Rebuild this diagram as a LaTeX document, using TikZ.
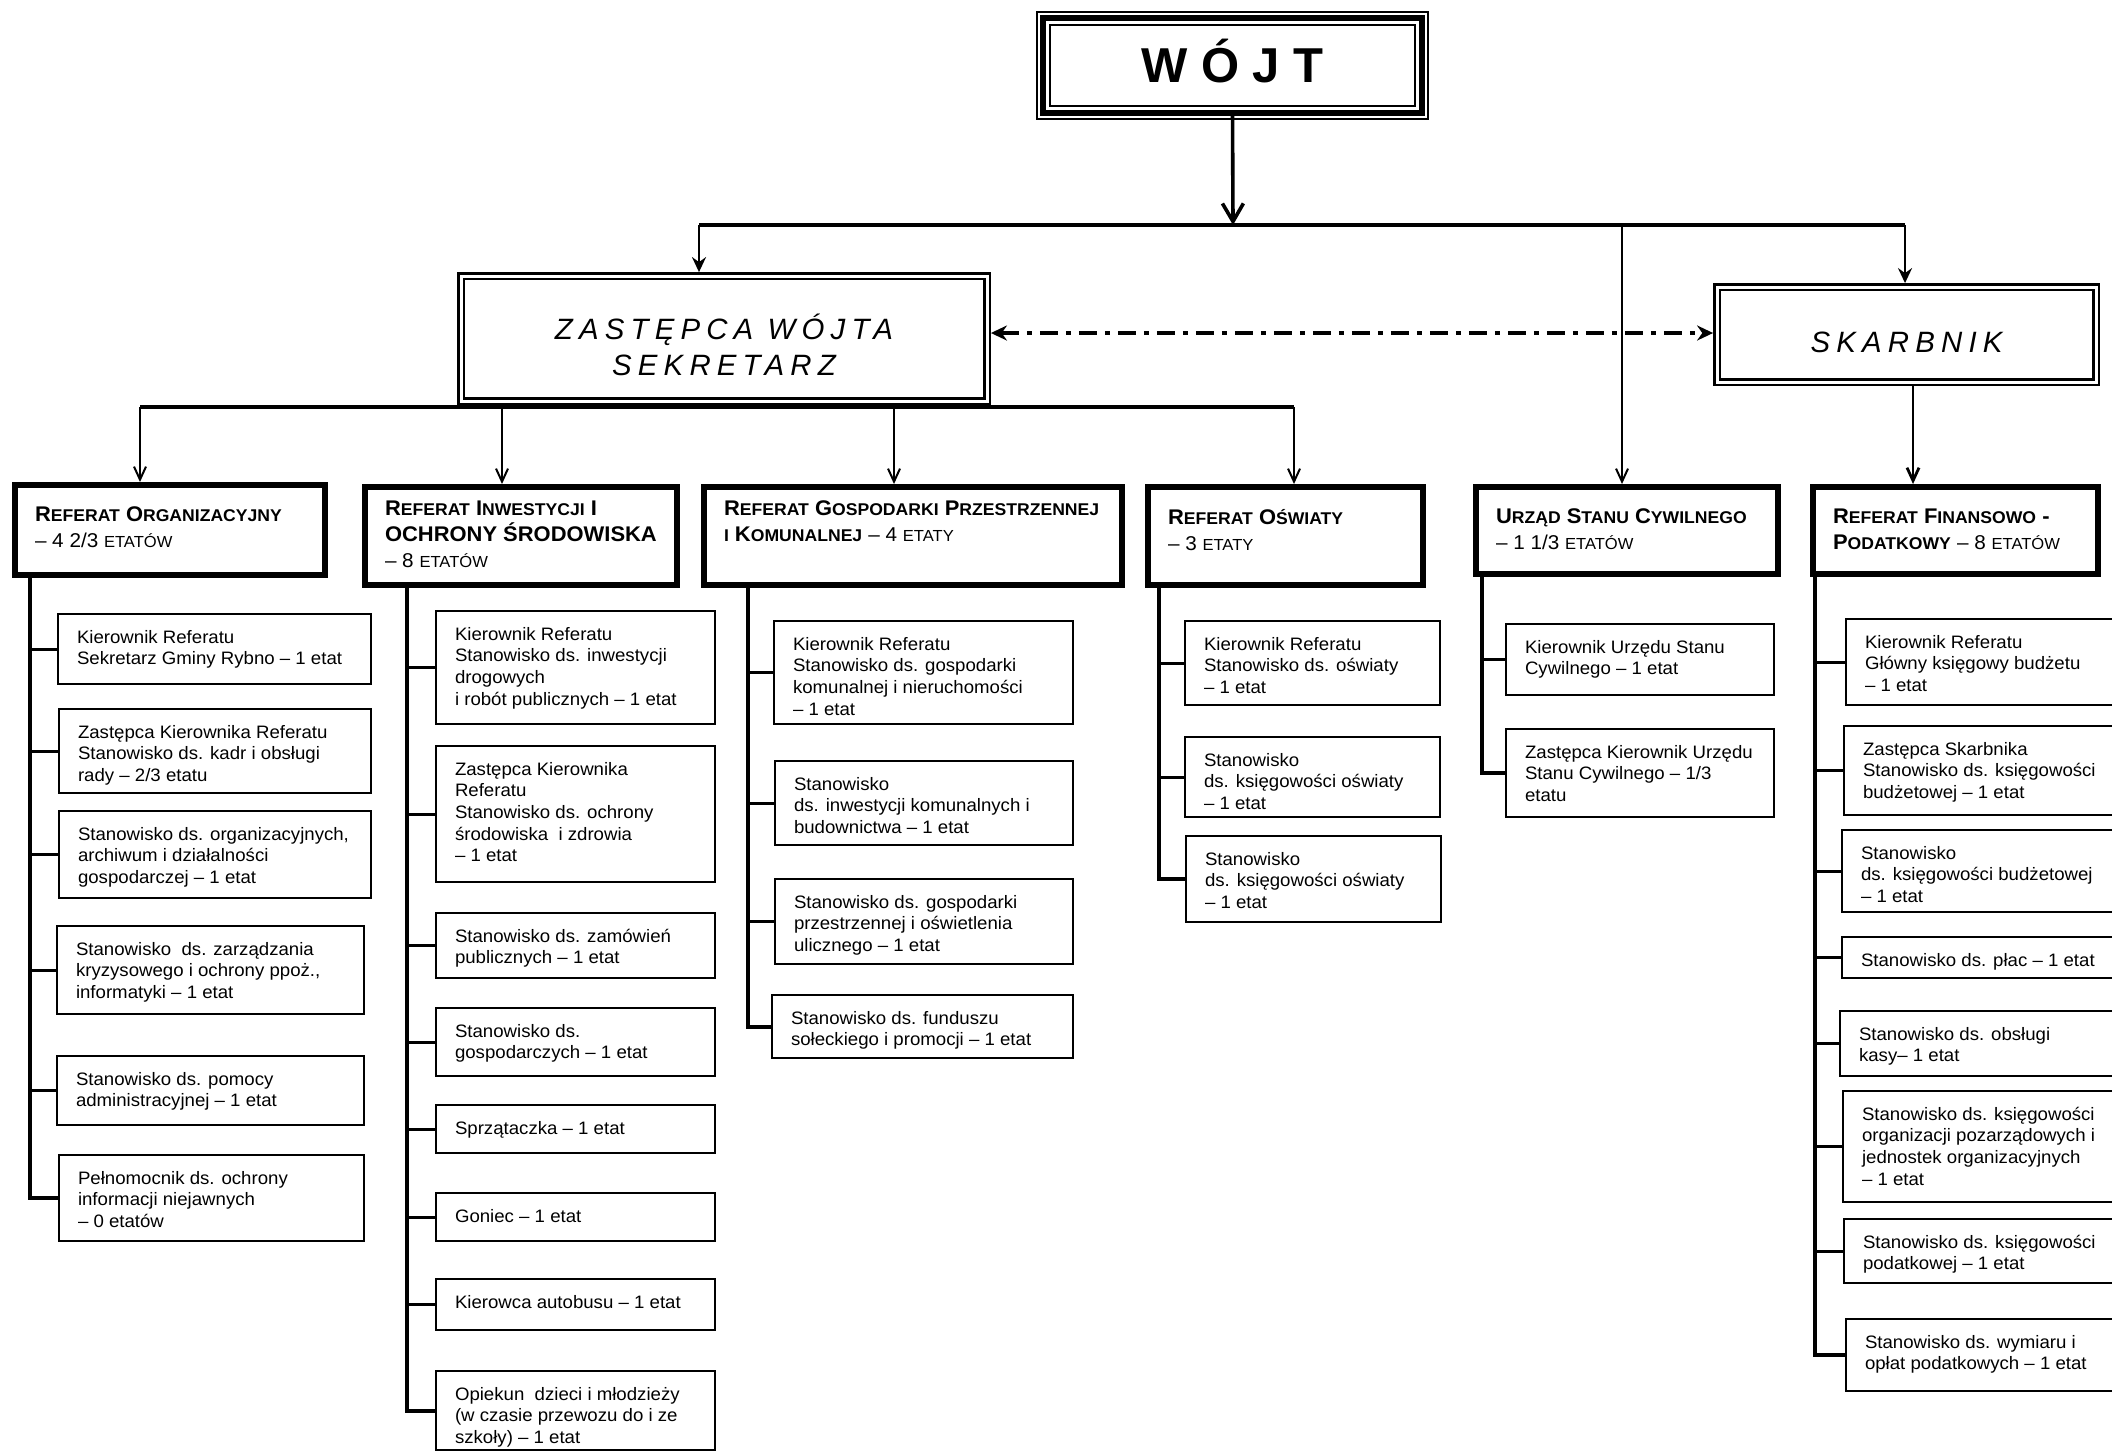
\documentclass[tikz,border=0pt]{standalone}
\usepackage{fontspec}
\setmainfont{Liberation Sans}[FakeStretch=1.035]
\newfontfamily\spacedfont[LetterSpace=21]{Liberation Sans}
\newfontfamily\titlefont{Liberation Sans}
\usetikzlibrary{arrows.meta}

\newcommand\smc[1]{{\fontsize{8.5}{13}\selectfont #1}}
\newcommand\regc[1]{{\mdseries\fontsize{10}{13}\selectfont #1}}
\newcommand\etw[1]{{\fontsize{8}{13}\selectfont #1}}
% sub box: name, x, y, w, h, text  (outer edges, px)
\newcommand\sbx[6]{\node[sb] (#1) at (#2,#3) {\parbox[c][\dimexpr #5pt/2-17pt\relax][t]{\dimexpr #4pt/2-20pt\relax}{#6}};}
% department box
\newcommand\dbx[6]{\node[dp] (#1) at (#2,#3) {\parbox[c][\dimexpr #5pt/2-17pt\relax][t]{\dimexpr #4pt/2-23pt\relax}{#6}};}

\begin{document}
\begin{tikzpicture}[x=0.5pt,y=-0.5pt,
  sb/.style={draw, line width=1pt, inner xsep=9.5pt, inner ysep=8pt, anchor=north west, font=\fontsize{9}{10.85}\selectfont},
  dp/.style={draw, line width=3pt, inner xsep=10pt, inner ysep=7pt, anchor=north west, font=\fontsize{10.6}{13}\selectfont\bfseries},
  spine/.style={line width=2pt},
  tick/.style={line width=1.5pt},
  darrow/.style={line width=1pt, -{Straight Barb[length=6.5pt,width=6pt]}},
  sarrow/.style={line width=1.2pt, -{Stealth[length=7.5pt,width=7pt,inset=2.5pt]}},
  warrow/.style={line width=1.8pt, -{Straight Barb[length=9pt,width=10.5pt]}},
  dd/.style={line width=1.6pt, dash pattern=on 9pt off 4pt on 2.5pt off 4pt,
     {Stealth[length=8pt,width=7.5pt]}-{Stealth[length=8pt,width=7.5pt]}},
  dbl/.style={draw, line width=1.2pt, double, double distance=1.5pt, outer sep=1.95pt, inner sep=0pt,
     font=\spacedfont\itshape\fontsize{14.7}{18.3}\selectfont}
]
\useasboundingbox (0,0) rectangle (2112,1453);
\fill[white] (0,0) rectangle (2112,1453);
\clip (0,0) rectangle (2112,1453);

% ---------- top level ----------
\node[draw, line width=2.8pt, outer sep=0pt, minimum width=189.5pt, minimum height=47.5pt, inner sep=0pt,
  font=\titlefont\fontsize{24.5}{28}\selectfont\bfseries, text height=16.5pt, text depth=0pt] (wojt) at (1232.5,65.5) {W Ó J T};
\draw[line width=1pt] ([shift={(-3pt,3pt)}]wojt.north west) rectangle ([shift={(3pt,-3pt)}]wojt.south east);
\draw[line width=1pt] ([shift={(3.5pt,-3.5pt)}]wojt.north west) rectangle ([shift={(-3.5pt,3.5pt)}]wojt.south east);

\node[dbl, minimum width=263pt, minimum height=62.5pt, align=center] (zast) at (724,338.5)
  {\rule{0pt}{19pt}ZASTĘPCA WÓJTA\\SEKRETARZ};
\node[dbl, minimum width=189.5pt, minimum height=47.5pt, text height=17.5pt, text depth=0pt] (skarb) at (1906.5,334.5) {SKARBNIK};

% ---------- departments ----------
\dbx{d1}{12}{482}{316}{96}{\vspace*{4pt}R\smc{EFERAT} O\smc{RGANIZACYJNY}\\\regc{– 4 2/3 \etw{ETATÓW}}}
\dbx{d2}{362}{484}{318}{104}{R\smc{EFERAT} I\smc{NWESTYCJI} I\\OCHRONY ŚRODOWISKA\\\regc{– 8 \etw{ETATÓW}}}
\dbx{d3}{701}{484}{424}{104}{R\smc{EFERAT} G\smc{OSPODARKI} P\smc{RZESTRZENNEJ}\\\smc{I} K\smc{OMUNALNEJ} \regc{– 4 \etw{ETATY}}}
\dbx{d4}{1145}{484}{281}{104}{\vspace*{4pt}R\smc{EFERAT} O\smc{ŚWIATY}\\\regc{– 3 \etw{ETATY}}}
\dbx{d5}{1473}{484}{308}{93}{\vspace*{4pt}U\smc{RZĄD} S\smc{TANU} C\smc{YWILNEGO}\\\regc{– 1 1/3 \etw{ETATÓW}}}
\dbx{d6}{1810}{484}{291}{93}{\vspace*{4pt}R\smc{EFERAT} F\smc{INANSOWO} -\\P\smc{ODATKOWY} \regc{– 8 \etw{ETATÓW}}}

% ---------- connectors top ----------
\coordinate (hb) at (1233,225);
\coordinate (z0) at (699,225);
\coordinate (u0) at (1622,225);
\coordinate (s0) at (1905,225);
\coordinate (k0) at (1913,0);
\coordinate (ddy) at (0,333);
\coordinate (c1) at (140,407);
\coordinate (c2) at (502,407);
\coordinate (c3) at (894,407);
\coordinate (c4) at (1294,407);

\draw[warrow] (wojt.south) -- (hb);
\draw[line width=1.7pt] (z0) -- (s0);
\draw[sarrow] (z0) -- (z0 |- zast.north);
\draw[darrow] (u0) -- (u0 |- d5.north);
\draw[sarrow] (s0) -- (s0 |- skarb.north);
\draw[dd] (zast.east |- ddy) -- (skarb.west |- ddy);
\draw[line width=2pt] (c1) -- (c4);
\draw[darrow] (c1) -- (c1 |- d1.north);
\draw[darrow] (c2) -- (c2 |- d2.north);
\draw[darrow] (c3) -- (c3 |- d3.north);
\draw[darrow] (c4) -- (c4 |- d4.north);
\draw[line width=1.4pt, -{Straight Barb[length=6.5pt,width=6pt]}] (k0 |- skarb.south) -- (k0 |- d6.north);

% ---------- Referat Organizacyjny ----------
\sbx{a1}{57}{613}{315}{72}{Kierownik Referatu\\Sekretarz Gminy Rybno – 1 etat}
\sbx{a2}{58}{708}{314}{86}{Zastępca Kierownika Referatu\\Stanowisko ds. kadr i obsługi\\rady – 2/3 etatu}
\sbx{a3}{58}{810}{314}{89}{Stanowisko ds. organizacyjnych,\\archiwum i działalności\\gospodarczej – 1 etat}
\sbx{a4}{56}{925}{309}{90}{Stanowisko \ ds. zarządzania\\kryzysowego i ochrony ppoż.,\\informatyki – 1 etat}
\sbx{a5}{56}{1055}{309}{71}{Stanowisko ds. pomocy\\administracyjnej – 1 etat}
\sbx{a6}{58}{1154}{307}{88}{Pełnomocnik ds. ochrony\\informacji niejawnych\\– 0 etatów}
\coordinate (sp1) at (30,0);
\draw[spine] (sp1 |- d1.south) |- (a6.west);
\foreach \n in {a1,a2,a3,a4,a5} \draw[tick] (sp1 |- \n.west) -- (\n.west);

% ---------- Referat Inwestycji ----------
\sbx{b1}{435}{610}{281}{115}{Kierownik Referatu\\Stanowisko ds. inwestycji\\drogowych\\i robót publicznych – 1 etat}
\sbx{b2}{435}{745}{281}{138}{Zastępca Kierownika\\Referatu\\Stanowisko ds. ochrony\\środowiska \ i zdrowia\\– 1 etat}
\sbx{b3}{435}{912}{281}{67}{Stanowisko ds. zamówień\\publicznych – 1 etat}
\sbx{b4}{435}{1007}{281}{70}{Stanowisko ds.\\gospodarczych – 1 etat}
\sbx{b5}{435}{1104}{281}{50}{Sprzątaczka – 1 etat}
\sbx{b6}{435}{1192}{281}{50}{Goniec – 1 etat}
\sbx{b7}{435}{1278}{281}{53}{Kierowca autobusu – 1 etat}
\sbx{b8}{435}{1370}{281}{81}{Opiekun \ dzieci i młodzieży\\(w czasie przewozu do i ze\\szkoły) – 1 etat}
\coordinate (sp2) at (407,0);
\draw[spine] (sp2 |- d2.south) |- (b8.west);
\foreach \n in {b1,b2,b3,b4,b5,b6,b7} \draw[tick] (sp2 |- \n.west) -- (\n.west);

% ---------- Referat Gospodarki ----------
\sbx{c1b}{773}{620}{301}{105}{Kierownik Referatu\\Stanowisko ds. gospodarki\\komunalnej i nieruchomości\\– 1 etat}
\sbx{c2b}{774}{760}{300}{86}{Stanowisko\\ds. inwestycji komunalnych i\\budownictwa – 1 etat}
\sbx{c3b}{774}{878}{300}{87}{Stanowisko ds. gospodarki\\przestrzennej i oświetlenia\\ulicznego – 1 etat}
\sbx{c4b}{771}{994}{303}{65}{Stanowisko ds. funduszu\\sołeckiego i promocji – 1 etat}
\coordinate (sp3) at (748,0);
\draw[spine] (sp3 |- d3.south) |- (c4b.west);
\foreach \n in {c1b,c2b,c3b} \draw[tick] (sp3 |- \n.west) -- (\n.west);

% ---------- Referat Oswiaty ----------
\sbx{e1}{1184}{620}{257}{86}{Kierownik Referatu\\Stanowisko ds. oświaty\\– 1 etat}
\sbx{e2}{1184}{736}{257}{82}{Stanowisko\\ds. księgowości oświaty\\– 1 etat}
\sbx{e3}{1185}{835}{257}{88}{Stanowisko\\ds. księgowości oświaty\\– 1 etat}
\coordinate (sp4) at (1159,0);
\draw[spine] (sp4 |- d4.south) |- (e3.west);
\foreach \n in {e1,e2} \draw[tick] (sp4 |- \n.west) -- (\n.west);

% ---------- USC ----------
\sbx{f1}{1505}{623}{270}{73}{Kierownik Urzędu Stanu\\Cywilnego – 1 etat}
\sbx{f2}{1505}{728}{270}{90}{Zastępca Kierownik Urzędu\\Stanu Cywilnego – 1/3\\etatu}
\coordinate (sp5) at (1482,0);
\draw[spine] (sp5 |- d5.south) |- (f2.west);
\draw[tick] (sp5 |- f1.west) -- (f1.west);

% ---------- Referat Finansowo-Podatkowy ----------
\sbx{g1}{1845}{618}{300}{88}{Kierownik Referatu\\Główny księgowy budżetu\\– 1 etat}
\sbx{g2}{1843}{725}{300}{91}{Zastępca Skarbnika\\Stanowisko ds. księgowości\\budżetowej – 1 etat}
\sbx{g3}{1841}{829}{300}{84}{Stanowisko\\ds. księgowości budżetowej\\– 1 etat}
\sbx{g4}{1841}{936}{300}{42}{Stanowisko ds. płac – 1 etat}
\sbx{g5}{1839}{1010}{300}{67}{Stanowisko ds. obsługi\\kasy– 1 etat}
\sbx{g6}{1842}{1090}{300}{113}{Stanowisko ds. księgowości\\organizacji pozarządowych i\\jednostek organizacyjnych\\– 1 etat}
\sbx{g7}{1843}{1218}{300}{66}{Stanowisko ds. księgowości\\podatkowej – 1 etat}
\sbx{g8}{1845}{1318}{300}{74}{Stanowisko ds. wymiaru i\\opłat podatkowych – 1 etat}
\coordinate (sp6) at (1815,0);
\draw[spine] (sp6 |- d6.south) |- (g8.west);
\foreach \n in {g1,g2,g3,g4,g5,g6,g7} \draw[tick] (sp6 |- \n.west) -- (\n.west);
\end{tikzpicture}
\end{document}
